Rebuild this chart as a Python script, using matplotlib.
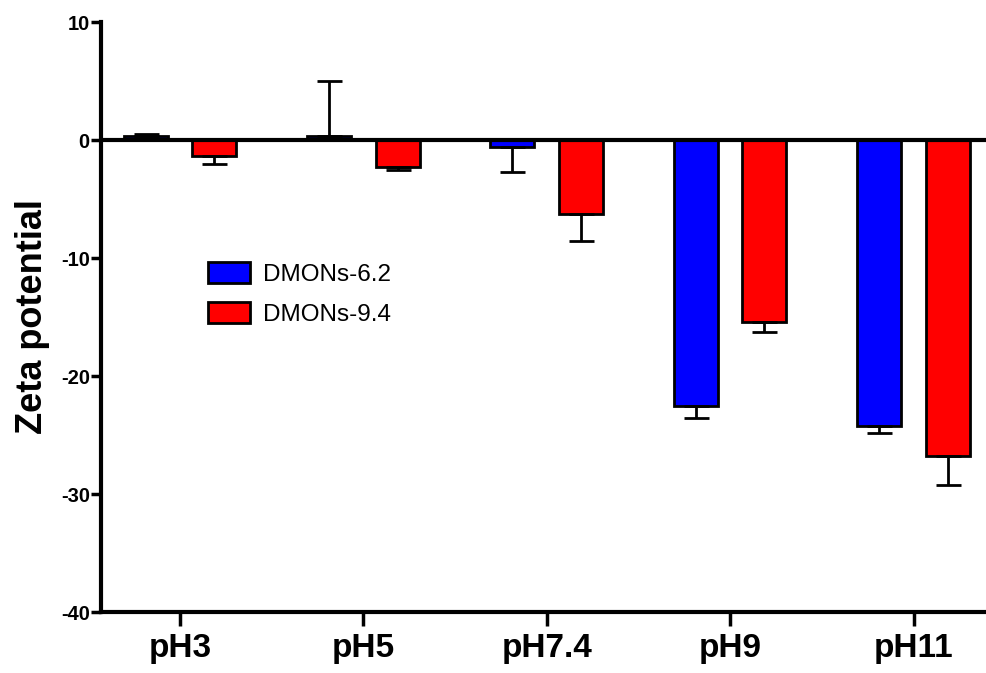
import matplotlib
matplotlib.use("Agg")
import matplotlib.pyplot as plt
import numpy as np

categories = ["pH3", "pH5", "pH7.4", "pH9", "pH11"]
series_names = ["DMONs-6.2", "DMONs-9.4"]
dmons62_mean = [0.3, 0.3, -0.55, -22.5, -24.2]
dmons62_err = [0.25, 4.7, 2.15, 1.1, 0.6]
dmons94_mean = [-1.35, -2.3, -6.3, -15.4, -26.8]
dmons94_err = [0.65, 0.2, 2.3, 0.9, 2.4]
yticks = [-40, -30, -20, -10, 0, 10]
colors = ["#0000ff", "#ff0000"]

plt.rcParams['font.family'] = ['Liberation Sans', 'DejaVu Sans']

fig = plt.figure(figsize=(9.87, 6.73), dpi=100)
ax = fig.add_axes([0.1023, 0.0906, 0.8977, 0.8767])

x = np.arange(len(categories))
width = 0.24
offset = 0.187

for i, (means, errs) in enumerate([(dmons62_mean, dmons62_err), (dmons94_mean, dmons94_err)]):
    means = np.array(means)
    errs = np.array(errs)
    lower = np.where(means < 0, errs, 0)
    upper = np.where(means >= 0, errs, 0)
    pos = x + (offset if i == 1 else -offset)
    ax.bar(pos, means, width, color=colors[i], edgecolor="black", linewidth=2,
           label=series_names[i], zorder=2)
    ax.errorbar(pos, means, yerr=[lower, upper], fmt="none", ecolor="black",
                elinewidth=2, capsize=9, capthick=2, zorder=3)

ax.axhline(0, color="black", linewidth=3, zorder=4)

ax.set_ylim(-40, 10)
ax.set_xlim(-0.43, 4.40)
ax.set_yticks(yticks)
ax.set_yticklabels([str(t) for t in yticks], fontsize=14.5, fontweight="bold")
ax.set_xticks(x)
ax.set_xticklabels(categories, fontsize=24, fontweight="bold")
ax.tick_params(axis="x", length=10, width=2.5, pad=5)
ax.tick_params(axis="y", length=7, width=2.5, pad=1)

for s in ["top", "right"]:
    ax.spines[s].set_visible(False)
for s in ["left", "bottom"]:
    ax.spines[s].set_linewidth(3)

ax.set_ylabel("Zeta potential", fontsize=26, fontweight="bold", labelpad=8)

ax.legend(loc="upper left", bbox_to_anchor=(0.0965, 0.63), frameon=False,
          fontsize=17.5, handlelength=1.73, handleheight=0.95, handletextpad=0.5,
          labelspacing=0.65)

fig.savefig("out.png", dpi=100)
